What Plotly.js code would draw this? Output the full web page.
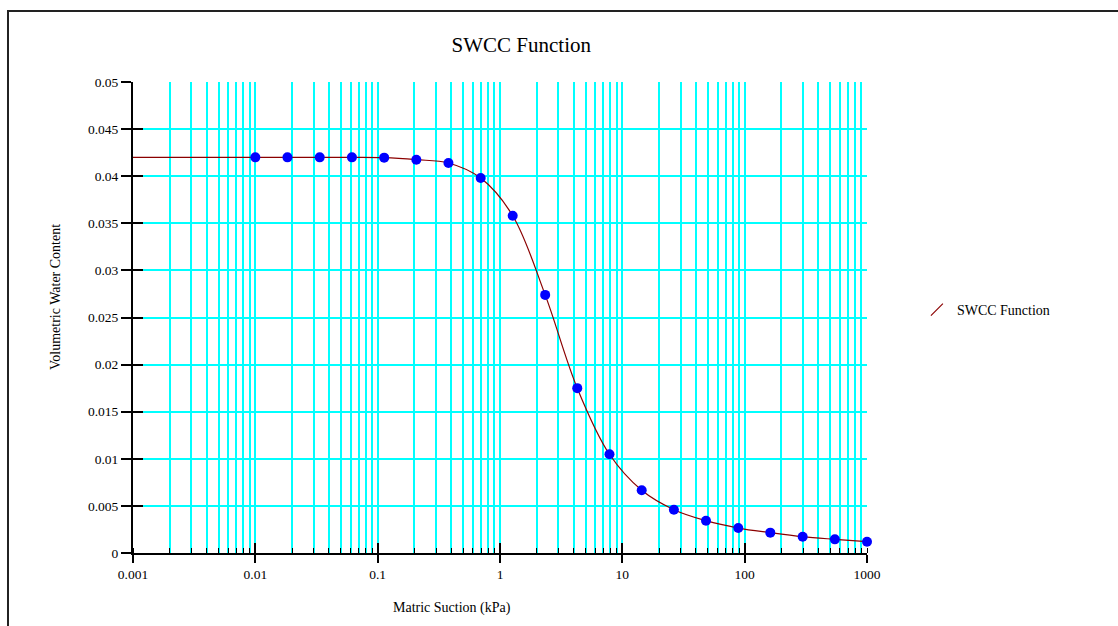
<!DOCTYPE html>
<html>
<head>
<meta charset="utf-8">
<script src="https://cdn.plot.ly/plotly-3.0.1.min.js"></script>
<style>html,body{margin:0;padding:0;background:#fff;}#chart{width:1118px;height:626px;}</style>
</head>
<body>
<div id="chart"></div>
<script>
// Matric suction (kPa) of the plotted points
var suction = [0.01, 0.0183, 0.0336, 0.0616, 0.113, 0.207, 0.379, 0.695, 1.27, 2.34, 4.28, 7.85, 14.4, 26.4, 48.3, 88.6, 162, 298, 546, 1000];
// Volumetric water content at those points
var vwc = [0.0420, 0.0420, 0.0420, 0.0420, 0.04197, 0.04175, 0.0414, 0.0398, 0.0358, 0.0274, 0.0175, 0.01048, 0.00666, 0.0046, 0.00343, 0.00265, 0.00216, 0.00173, 0.00145, 0.0012];
// Curve start (left edge of the axis)
var curveStartSuction = [0.001];
var curveStartVwc = [0.042];

var xTickLabels = ['0.001', '0.01', '0.1', '1', '10', '100', '1000'];
var yTickLabels = ['0', '0.005', '0.01', '0.015', '0.02', '0.025', '0.03', '0.035', '0.04', '0.045', '0.05'];
var seriesName = 'SWCC Function';
var chartTitle = 'SWCC Function';
var xTitle = 'Matric Suction (kPa)';
var yTitle = 'Volumetric Water Content';

var xTickVals = xTickLabels.map(parseFloat);
var yTickVals = yTickLabels.map(parseFloat);

var FONT = 'Liberation Serif, Times New Roman, serif';
var CURVE = '#8b0000';
var GRID = '#00ffff';

var traces = [
  {
    x: curveStartSuction.concat(suction),
    y: curveStartVwc.concat(vwc),
    mode: 'lines',
    line: {color: CURVE, width: 1.2, shape: 'spline', smoothing: 1},
    showlegend: false,
    hoverinfo: 'skip',
    cliponaxis: false
  },
  {
    x: suction,
    y: vwc,
    mode: 'markers',
    marker: {color: '#0000ff', size: 10},
    showlegend: false,
    cliponaxis: false
  },
  {
    x: [null], y: [null],
    xaxis: 'x2', yaxis: 'y2',
    mode: 'markers',
    name: seriesName,
    marker: {symbol: 'line-ne', size: 12, color: CURVE, line: {color: CURVE, width: 1.2}},
    showlegend: true
  }
];

var layout = {
  width: 1118, height: 626,
  margin: {l: 133, r: 251, t: 82, b: 73},
  paper_bgcolor: '#ffffff',
  plot_bgcolor: '#ffffff',
  font: {family: FONT, size: 13, color: '#000'},
  title: {
    text: chartTitle,
    font: {family: FONT, size: 21, color: '#000'},
    xref: 'paper', x: 0.529, xanchor: 'center',
    yref: 'container', y: 1 - 45 / 626, yanchor: 'middle'
  },
  showlegend: true,
  legend: {
    x: 1.068, xanchor: 'left', y: 0.516, yanchor: 'middle',
    font: {family: FONT, size: 14, color: '#000'},
    bgcolor: 'rgba(0,0,0,0)', borderwidth: 0
  },
  xaxis: {
    type: 'log', range: [-3, 3], fixedrange: true,
    tickmode: 'array', tickvals: xTickVals, ticktext: xTickLabels,
    ticks: 'outside', ticklen: 8, tickwidth: 2, tickcolor: '#000',
    ticklabelstandoff: 0,
    tickfont: {family: FONT, size: 13.5, color: '#000'},
    showline: true, linecolor: '#000', linewidth: 2,
    showgrid: true, gridcolor: GRID, gridwidth: 2,
    zeroline: false,
    minor: {dtick: 'D1', ticks: 'inside', ticklen: 5, tickwidth: 1, tickcolor: '#000',
            showgrid: true, gridcolor: GRID, gridwidth: 2}
  },
  yaxis: {
    range: [0, 0.05], fixedrange: true,
    tickmode: 'array', tickvals: yTickVals, ticktext: yTickLabels,
    ticks: 'outside', ticklen: 10, tickwidth: 2, tickcolor: '#000',
    tickfont: {family: FONT, size: 13.5, color: '#000'},
    showline: true, linecolor: '#000', linewidth: 2,
    showgrid: true, gridcolor: GRID, gridwidth: 2,
    zeroline: false
  },
  xaxis2: {
    type: 'log', range: [-3, 3], overlaying: 'x', anchor: 'y', side: 'bottom', fixedrange: true,
    tickmode: 'array', tickvals: xTickVals, showticklabels: false,
    ticks: 'inside', ticklen: 10, tickwidth: 2, tickcolor: '#000',
    showline: false, showgrid: false, zeroline: false
  },
  yaxis2: {
    range: [0, 0.05], overlaying: 'y', anchor: 'x', side: 'left', fixedrange: true,
    tickmode: 'array', tickvals: yTickVals, showticklabels: false,
    ticks: 'inside', ticklen: 10, tickwidth: 2, tickcolor: '#000',
    showline: false, showgrid: false, zeroline: false
  },
  annotations: [
    {text: xTitle, xref: 'paper', yref: 'paper', x: 0.4346, y: -0.1168,
     xanchor: 'center', yanchor: 'middle', showarrow: false,
     font: {family: FONT, size: 14, color: '#000'}},
    {text: yTitle, xref: 'paper', yref: 'paper', x: -0.1063, y: 0.5435,
     xanchor: 'center', yanchor: 'middle', showarrow: false, textangle: -90,
     font: {family: FONT, size: 14, color: '#000'}}
  ],
  shapes: [
    {type: 'rect', xref: 'paper', yref: 'paper',
     x0: -0.1703, x1: 2, y0: -1, y1: 1.1507,
     line: {color: '#222', width: 2}, fillcolor: 'rgba(0,0,0,0)', layer: 'above'}
  ]
};

Plotly.newPlot('chart', traces, layout, {displayModeBar: false, staticPlot: true});
</script>
</body>
</html>
